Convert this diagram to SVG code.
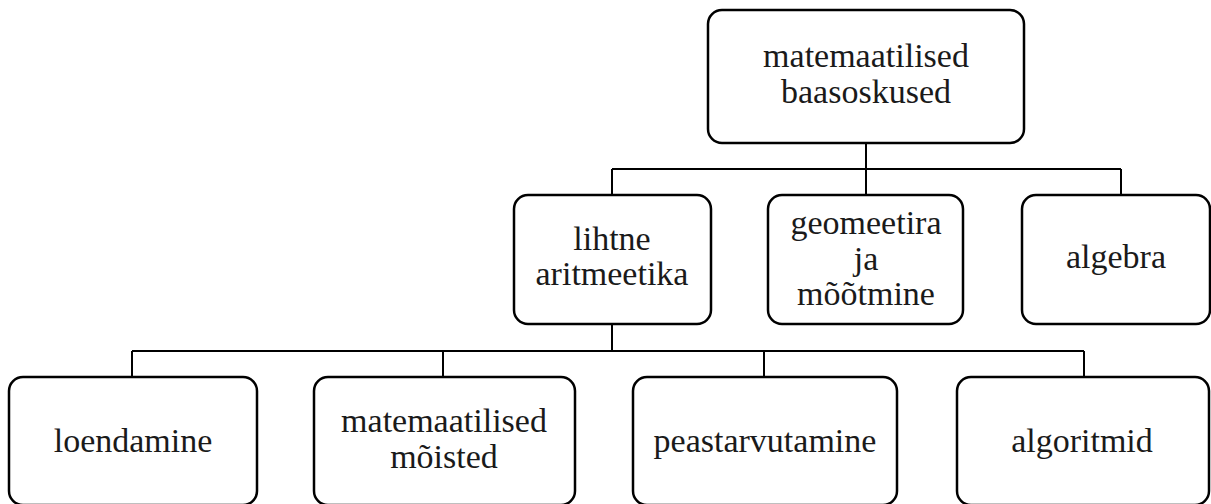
<svg xmlns="http://www.w3.org/2000/svg" width="1211" height="504" viewBox="0 0 1211 504">
<style>
.box{fill:#fff;stroke:#000;stroke-width:2.5}
.lbl{font-size:34px;fill:#1a1a1a;text-anchor:middle}
.conn{fill:none;stroke:#000;stroke-width:2}
</style>
<rect width="1211" height="504" fill="#fff"/>
<g id="connectors">
<path class="conn" d="M866 143V195M612 169H1121M612 169V195M1121 169V195"/>
<path class="conn" d="M612 324V351M132 351H1084M132 351V377M443 351V377M764 351V377M1084 351V377"/>
</g>
<g id="nodes" font-family="Liberation Serif, DejaVu Serif, serif">
<g id="n-root"><rect class="box" x="708" y="10" width="316" height="133" rx="14"/>
<text class="lbl" x="866" y="67">matemaatilised</text><text class="lbl" x="866" y="103">baasoskused</text></g>
<g id="n-lihtne"><rect class="box" x="514" y="195" width="197" height="129" rx="14"/>
<text class="lbl" x="612" y="250">lihtne</text><text class="lbl" x="612" y="285">aritmeetika</text></g>
<g id="n-geom"><rect class="box" x="768" y="195" width="195" height="129" rx="14"/>
<text class="lbl" x="866" y="234">geomeetira</text><text class="lbl" x="866" y="270">ja</text><text class="lbl" x="866" y="305">mõõtmine</text></g>
<g id="n-algebra"><rect class="box" x="1022" y="195" width="188" height="129" rx="14"/>
<text class="lbl" x="1116" y="268">algebra</text></g>
<g id="n-loend"><rect class="box" x="9" y="377" width="248" height="128" rx="14"/>
<text class="lbl" x="133" y="452">loendamine</text></g>
<g id="n-moisted"><rect class="box" x="314" y="377" width="261" height="128" rx="14"/>
<text class="lbl" x="444" y="432">matemaatilised</text><text class="lbl" x="444" y="468">mõisted</text></g>
<g id="n-peast"><rect class="box" x="633" y="377" width="264" height="128" rx="14"/>
<text class="lbl" x="765" y="452">peastarvutamine</text></g>
<g id="n-algor"><rect class="box" x="957" y="377" width="252" height="128" rx="14"/>
<text class="lbl" x="1082" y="452">algoritmid</text></g>
</g>
</svg>
